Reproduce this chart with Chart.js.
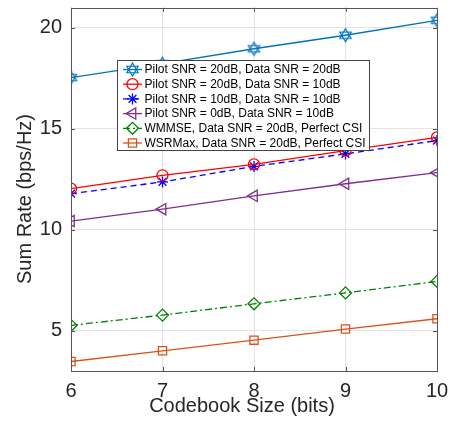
<!DOCTYPE html>
<html><head><meta charset="utf-8">
<script src="https://cdn.jsdelivr.net/npm/chart.js@4"></script>
<style>html,body{margin:0;padding:0;background:#fff}#wrap{width:451px;height:422px}</style>
</head><body><div id="wrap"><canvas id="c" width="451" height="422"></canvas></div>
<script>
const codebookBits = [6, 7, 8, 9, 10];
const yTicks = [5, 10, 15, 20];
const xTitle = 'Codebook Size (bits)';
const yTitle = 'Sum Rate (bps/Hz)';
const seriesLabels = [
  'Pilot SNR = 20dB, Data SNR = 20dB',
  'Pilot SNR = 20dB, Data SNR = 10dB',
  'Pilot SNR = 10dB, Data SNR = 10dB',
  'Pilot SNR = 0dB, Data SNR = 10dB',
  'WMMSE, Data SNR = 20dB, Perfect CSI',
  'WSRMax, Data SNR = 20dB, Perfect CSI'
];
const pilot20data20 = [17.54, 18.23, 18.97, 19.64, 20.38];
const pilot20data10 = [12.04, 12.70, 13.24, 13.92, 14.58];
const pilot10data10 = [11.79, 12.37, 13.14, 13.76, 14.42];
const pilot0data10  = [10.43, 11.02, 11.68, 12.28, 12.83];
const wmmse20       = [5.26, 5.77, 6.33, 6.87, 7.44];
const wsrmax20      = [3.47, 4.00, 4.53, 5.08, 5.59];

function hexagram(color, r) {
  const s = Math.ceil(r * 2 + 4);
  const cv = document.createElement('canvas');
  cv.width = s; cv.height = s;
  const c = cv.getContext('2d');
  const cx = s / 2, cy = s / 2;
  c.strokeStyle = color; c.lineWidth = 1.2;
  [-Math.PI / 2, Math.PI / 2].forEach(a0 => {
    c.beginPath();
    for (let i = 0; i < 3; i++) {
      const a = a0 + i * 2 * Math.PI / 3;
      const x = cx + r * Math.cos(a), y = cy + r * Math.sin(a);
      if (i === 0) c.moveTo(x, y); else c.lineTo(x, y);
    }
    c.closePath(); c.stroke();
  });
  return cv;
}
const hexImg = hexagram('#0072BD', 6.5);

const styles = [
  {color:'#0072BD', point:hexImg, radius:6, rot:0, dash:[]},
  {color:'#FF0000', point:'circle', radius:5.5, rot:0, dash:[]},
  {color:'#0000FF', point:'star', radius:5.5, rot:0, dash:[6,4]},
  {color:'#7E2F8E', point:'triangle', radius:6.5, rot:-90, dash:[]},
  {color:'#008000', point:'rectRot', radius:6, rot:0, dash:[7,3,2,3]},
  {color:'#D95319', point:'rect', radius:5.8, rot:0, dash:[]}
];
const seriesData = [pilot20data20, pilot20data10, pilot10data10, pilot0data10, wmmse20, wsrmax20];

const datasets = seriesData.map((d, i) => ({
  label: seriesLabels[i],
  data: codebookBits.map((x, j) => ({x: x, y: d[j]})),
  borderColor: styles[i].color,
  backgroundColor: 'rgba(0,0,0,0)',
  borderWidth: 1.3,
  borderDash: styles[i].dash,
  pointStyle: styles[i].point,
  pointRadius: styles[i].radius,
  pointRotation: styles[i].rot,
  pointBorderColor: styles[i].color,
  pointBackgroundColor: 'rgba(0,0,0,0)',
  pointBorderWidth: 1.3,
  tension: 0
}));

const AX = '#555555';
const FONT = '"Liberation Sans", Arial, Helvetica, sans-serif';

const frame = {
  id: 'frame',
  afterDatasetsDraw(chart) {
    const ctx = chart.ctx, a = chart.chartArea;
    const xs = chart.scales.x, ys = chart.scales.y;
    ctx.save();
    ctx.strokeStyle = AX; ctx.lineWidth = 1;
    ctx.strokeRect(Math.round(a.left) + 0.5, Math.round(a.top) + 0.5,
                   Math.round(a.right - a.left), Math.round(a.bottom - a.top));
    ctx.beginPath();
    codebookBits.forEach(v => {
      const x = Math.round(xs.getPixelForValue(v)) + 0.5;
      ctx.moveTo(x, a.bottom); ctx.lineTo(x, a.bottom - 4);
      ctx.moveTo(x, a.top); ctx.lineTo(x, a.top + 4);
    });
    yTicks.forEach(v => {
      const y = Math.round(ys.getPixelForValue(v)) + 0.5;
      ctx.moveTo(a.left, y); ctx.lineTo(a.left + 4, y);
      ctx.moveTo(a.right, y); ctx.lineTo(a.right - 4, y);
    });
    ctx.stroke();

    // axis titles
    ctx.fillStyle = '#262626';
    ctx.font = '20px ' + FONT;
    ctx.textAlign = 'center'; ctx.textBaseline = 'middle';
    ctx.fillText(xTitle, 242, 406);
    ctx.save();
    ctx.translate(25, 199);
    ctx.rotate(-Math.PI / 2);
    ctx.fillText(yTitle, 0, 0);
    ctx.restore();

    // legend box
    const L = 117.5, T = 60.5, W = 252, H = 90, rowH = 14.7, firstY = 69.5;
    ctx.fillStyle = '#fff';
    ctx.fillRect(L, T, W, H);
    ctx.strokeStyle = '#444'; ctx.lineWidth = 1;
    ctx.strokeRect(L, T, W, H);
    ctx.font = '12px ' + FONT;
    ctx.textBaseline = 'middle'; ctx.textAlign = 'left';
    chart.data.datasets.forEach((ds, i) => {
      const y = firstY + i * rowH;
      ctx.save();
      ctx.strokeStyle = ds.borderColor; ctx.lineWidth = 1.3;
      ctx.setLineDash(ds.borderDash || []);
      ctx.beginPath(); ctx.moveTo(123, y); ctx.lineTo(142, y); ctx.stroke();
      ctx.setLineDash([]);
      if (ds.pointStyle instanceof HTMLCanvasElement) {
        ctx.drawImage(ds.pointStyle, 132.5 - ds.pointStyle.width / 2, y - ds.pointStyle.height / 2);
      } else if (Chart.helpers && Chart.helpers.drawPoint) {
        ctx.fillStyle = 'rgba(0,0,0,0)';
        Chart.helpers.drawPoint(ctx, {pointStyle: ds.pointStyle, rotation: ds.pointRotation, radius: ds.pointRadius, borderWidth: 1.3}, 132.5, y);
      }
      ctx.restore();
      ctx.fillStyle = '#000';
      ctx.fillText(ds.label, 144.5, y + 0.5);
    });
    ctx.restore();
  }
};

new Chart(document.getElementById('c'), {
  type: 'line',
  data: { datasets },
  plugins: [frame],
  options: {
    responsive: false,
    animation: false,
    devicePixelRatio: 1,
    layout: { padding: { top: 5, right: 14, left: 0, bottom: 0 } },
    plugins: { legend: { display: false }, tooltip: { enabled: false } },
    scales: {
      x: {
        type: 'linear', min: 6, max: 10,
        afterFit(s) { s.height = 51; s.paddingLeft = 0; s.paddingRight = 0; },
        afterBuildTicks(s) { s.ticks = codebookBits.map(v => ({value: v})); },
        grid: { color: '#e3e3e3', drawTicks: false, lineWidth: 1 },
        border: { display: false },
        ticks: { color: '#262626', font: { family: FONT, size: 20 }, padding: 8, maxRotation: 0 },
        title: { display: false }
      },
      y: {
        type: 'linear', min: 3, max: 21,
        afterFit(s) { s.width = 71; s.paddingTop = 0; s.paddingBottom = 0; },
        afterBuildTicks(s) { s.ticks = yTicks.map(v => ({value: v})); },
        grid: { color: '#e3e3e3', drawTicks: false, lineWidth: 1 },
        border: { display: false },
        ticks: { color: '#262626', font: { family: FONT, size: 20 }, padding: 9 },
        title: { display: false }
      }
    }
  }
});
</script></body></html>
